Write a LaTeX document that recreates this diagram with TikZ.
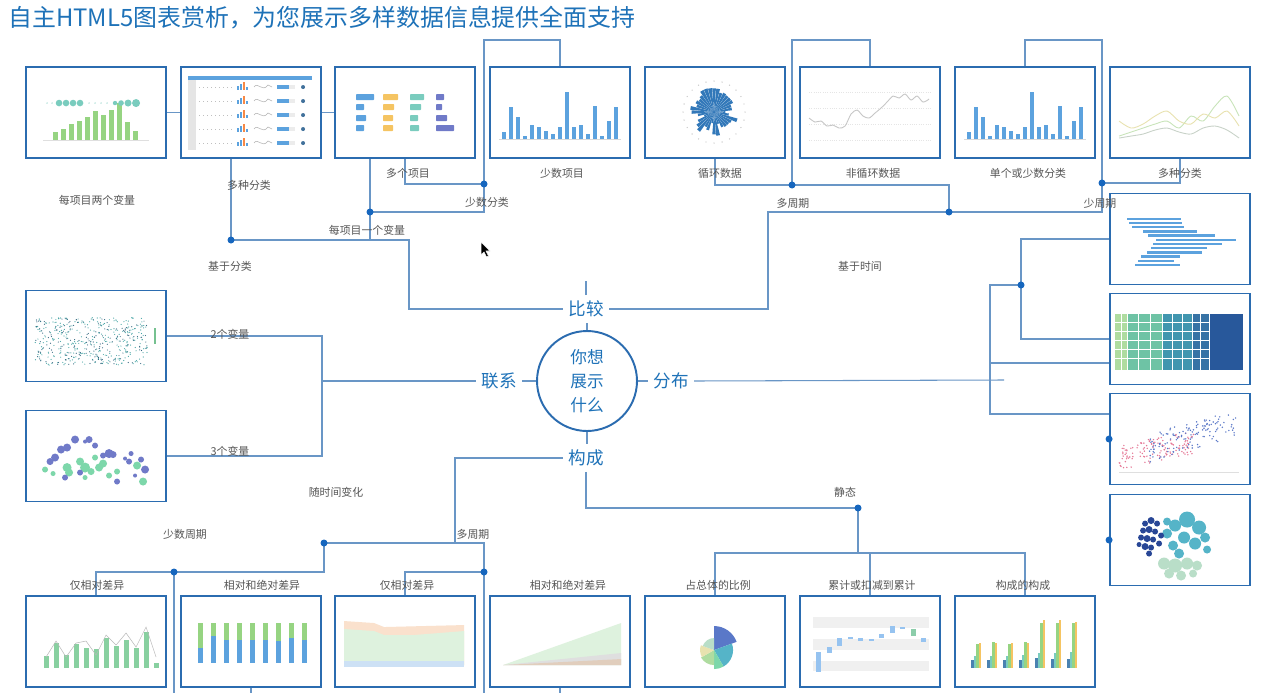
\documentclass[tikz,border=0pt]{standalone}
\usepackage{fontspec}
\setmainfont{Noto Sans CJK SC}
\usetikzlibrary{positioning}

\definecolor{frameblue}{RGB}{43,108,176}
\definecolor{linkblue}{RGB}{105,150,198}
\definecolor{dotblue}{RGB}{22,102,190}
\definecolor{headblue}{RGB}{30,114,184}
\definecolor{labelgray}{RGB}{85,85,85}
\definecolor{barblue}{RGB}{92,162,222}
\definecolor{bargreen}{RGB}{150,212,130}
\definecolor{barteal}{RGB}{122,204,190}
\definecolor{barorange}{RGB}{245,196,98}
\definecolor{barpurple}{RGB}{112,122,200}
\definecolor{roseblue}{RGB}{50,120,185}
\definecolor{tmA}{RGB}{175,220,160}
\definecolor{tmB}{RGB}{110,195,165}
\definecolor{tmC}{RGB}{65,150,175}
\definecolor{tmD}{RGB}{55,115,165}
\definecolor{tmE}{RGB}{40,88,155}
\definecolor{dotpink}{RGB}{230,120,150}
\definecolor{dotindigo}{RGB}{90,120,200}
\definecolor{scatTeal}{RGB}{70,165,165}
\definecolor{scatDark}{RGB}{55,105,130}
\definecolor{greenB}{RGB}{125,215,170}
\definecolor{darkB}{RGB}{40,70,150}
\definecolor{tealB}{RGB}{85,180,200}
\definecolor{paleB}{RGB}{185,222,200}
\definecolor{areaOrange}{RGB}{250,225,205}
\definecolor{areaGreen}{RGB}{222,242,222}
\definecolor{areaBlue}{RGB}{205,225,245}
\definecolor{waterBlue}{RGB}{150,195,240}
\definecolor{waterGreen}{RGB}{140,205,170}
\definecolor{lineGreen}{RGB}{200,228,185}
\definecolor{lineYellow}{RGB}{232,226,175}
\definecolor{lineGray}{RGB}{200,210,200}

\tikzset{
  thumb/.style={draw=frameblue, line width=1.1pt, fill=white, minimum width=2.8cm, minimum height=1.82cm, inner sep=0pt},
  link/.style={draw=linkblue, line width=0.6pt},
  joint/.style={circle, fill=dotblue, inner sep=0pt, minimum size=0.14cm},
  note/.style={text=labelgray, font=\fontsize{6.2}{7}\selectfont, inner sep=1pt},
  topic/.style={text=headblue, font=\fontsize{10}{12}\selectfont, inner sep=3pt},
  hub/.style={circle, draw=frameblue, line width=1.1pt, minimum size=2cm, align=center, text=headblue, font=\fontsize{9.5}{13.6}\selectfont}
}

\newcommand\fewbars{%
  \draw[gray!30, line width=0.3pt] (10,73) -- (132,73);
  \foreach \i/\h in {0/7,1/32,2/22,3/3,4/14,5/12,6/8,7/5,8/12,9/47,10/12,11/14,12/5,13/33,14/3,15/18,16/32}
    {\fill[barblue] (13+7*\i,73) rectangle ++(4,-\h);}%
}

\begin{document}
\begin{tikzpicture}[x=0.02cm, y=-0.02cm]% [ show background grid ]
\fill[white, use as bounding box] (0,0) rectangle (1280,693);
\pgfmathsetseed{3}

\node[anchor=west, text=headblue, font=\fontsize{13.6}{16}\selectfont, inner sep=0pt] (title) at (8,18) {自主HTML5图表赏析，为您展示多样数据信息提供全面支持};

% thumbnails
\node[thumb] (twoVar) at (96,112.5) {};
\node[thumb] (multiCat) at (251,112.5) {};
\node[thumb] (manyItems) at (405,112.5) {};
\node[thumb] (fewItems) at (560,112.5) {};
\node[thumb] (cyclic) at (715,112.5) {};
\node[thumb] (nonCyclic) at (870,112.5) {};
\node[thumb] (fewCat) at (1025,112.5) {};
\node[thumb] (manyCat) at (1180,112.5) {};

\node[thumb] (histo) at (1180,239) {};
\node[thumb] (treemap) at (1180,339) {};
\node[thumb] (scatter) at (1180,439) {};
\node[thumb] (bubbleDist) at (1180,540) {};

\node[thumb] (twoVarRel) at (96,336) {};
\node[thumb] (threeVarRel) at (96,456) {};

\node[thumb] (relFew) at (96,641.5) {};
\node[thumb] (absFew) at (251,641.5) {};
\node[thumb] (relMany) at (405,641.5) {};
\node[thumb] (absMany) at (560,641.5) {};
\node[thumb] (share) at (715,641.5) {};
\node[thumb] (waterfall) at (870,641.5) {};
\node[thumb] (compOfComp) at (1025,641.5) {};

% hub
\node[hub] (ask) at (587,381) {你想\\展示\\什么};
\node[topic] (cmp) at (586,309) {比较};
\node[topic] (rel) at (499,381) {联系};
\node[topic] (dist) at (671,381) {分布};
\node[topic] (comp) at (586,458) {构成};

% junctions and turns
\coordinate (dCat) at (231,240);
\coordinate (dOneVar) at (370,212);
\coordinate (dFewCat) at (484,184);
\coordinate (upFew) at (484,40);
\coordinate (cmpTurn) at (409,240);
\coordinate (timeTurn) at (768,309);
\coordinate (dTime) at (949,212);
\coordinate (dManyPer) at (792,185);
\coordinate (upMany) at (792,40);
\coordinate (dFewPer) at (1102,183);
\coordinate (upFewPer) at (1102,40);
\coordinate (distEnd) at (1004,380);
\coordinate (dDist) at (1021,285);
\coordinate (distTop) at (990,285);
\coordinate (distMid) at (990,363);
\coordinate (distBot) at (990,414);
\coordinate (relTurn) at (322,381);
\coordinate (chgTurn) at (455,543);
\coordinate (dFewCyc) at (324,543);
\coordinate (dRelFew) at (174,572);
\coordinate (fewDown) at (174,693);
\coordinate (dManyCyc) at (484,572);
\coordinate (manyDown) at (484,693);
\coordinate (dStatic) at (858,508);
\coordinate (staticBar) at (858,553);

% comparison
\draw[link] (twoVar.east) -- (multiCat.west);
\draw[link] (multiCat.east) -- (manyItems.west);
\draw[link] (multiCat.south -| dCat) -- (dCat) -- (cmpTurn) |- (cmp.west);
\draw[link] (manyItems.south -| dOneVar) -- (dOneVar |- dCat);
\draw[link] (dFewCat) -- (upFew) -| (fewItems.north);
\draw[link] (dFewCat) -| (manyItems.south);
\draw[link] (dFewCat) |- (dOneVar);
\draw[link] (cmp.east) -- (timeTurn) |- (dTime);
\draw[link] (dTime) |- (dManyPer);
\draw[link] (dTime) -| (dFewPer);
\draw[link] (dManyPer) -| (cyclic.south);
\draw[link] (dManyPer) -- (upMany) -| (nonCyclic.north);
\draw[link] (dFewPer) -- (upFewPer) -| (fewCat.north);
\draw[link] (dFewPer) -| (manyCat.south);

% distribution
\draw[link] (dist.east) -- (distEnd);
\draw[link] (dDist) -- (distTop) -- (distBot) -- (distBot -| scatter.west);
\draw[link] (dDist) |- (histo.west);
\draw[link] (dDist) |- (treemap.west);
\draw[link] (distMid) -- (distMid -| treemap.west);

% relationship
\draw[link] (rel.west) -- (relTurn);
\draw[link] (twoVarRel.east) -| (relTurn);
\draw[link] (threeVarRel.east) -| (relTurn);

% composition
\draw[link] (comp.west) -| (chgTurn) -- (dFewCyc);
\draw[link] (chgTurn) -| (dManyCyc);
\draw[link] (dFewCyc) |- (dRelFew);
\draw[link] (dRelFew) -| (relFew.north);
\draw[link] (dRelFew) -- (fewDown);
\draw[link] (absFew.south) -- (absFew.south |- fewDown);
\draw[link] (dManyCyc) -| (relMany.north);
\draw[link] (dManyCyc) -- (manyDown);
\draw[link] (absMany.south) -- (absMany.south |- manyDown);
\draw[link] (comp.south) -- (comp.south |- dStatic) -- (dStatic);
\draw[link] (dStatic) -- (staticBar);
\draw[link] (share.north) -- (share.north |- staticBar) -- (compOfComp.north |- staticBar) -- (compOfComp.north);
\draw[link] (waterfall.north) -- (waterfall.north |- staticBar);

% ticks round the hub
\draw[link] (cmp.north) -- ++(0,-14);
\draw[link] (ask.north) -- (ask.north |- cmp.south);
\draw[link] (ask.west) -- (rel.east);
\draw[link] (ask.east) -- (dist.west);
\draw[link] (ask.south) -- (ask.south |- comp.north);

\foreach \d in {dCat,dOneVar,dFewCat,dTime,dManyPer,dFewPer,dDist,dFewCyc,dRelFew,dManyCyc,dStatic}
  \node[joint] (\d-mark) at (\d) {};
\node[joint] (scatterMark) at (scatter.west) {};
\node[joint] (bubbleMark) at (bubbleDist.west) {};

% labels
\node[note] (nTwoVar) at (97,200) {每项目两个变量};
\node[note] (nMultiCat) at (249,185) {多种分类};
\node[note] (nManyItems) at (408,173) {多个项目};
\node[note] (nFewItems) at (562,173) {少数项目};
\node[note] (nFewCat) at (487,202) {少数分类};
\node[note] (nOneVar) at (367,230) {每项目一个变量};
\node[note] (nByCat) at (230,266) {基于分类};
\node[note] (nCyclic) at (720,173) {循环数据};
\node[note] (nNonCyclic) at (873,173) {非循环数据};
\node[note] (nFewCatT) at (1028,173) {单个或少数分类};
\node[note] (nManyCatT) at (1180,173) {多种分类};
\node[note] (nManyPer) at (793,203) {多周期};
\node[note] (nFewPer) at (1100,203) {少周期};
\node[note] (nByTime) at (860,266) {基于时间};
\node[note] (nTwoRel) at (230,334) {2个变量};
\node[note] (nThreeRel) at (230,451) {3个变量};
\node[note] (nOverTime) at (336,492) {随时间变化};
\node[note] (nFewCyc) at (185,534) {少数周期};
\node[note] (nManyCyc) at (473,534) {多周期};
\node[note] (nStatic) at (845,492) {静态};
\node[note] (nRelFew) at (97,585) {仅相对差异};
\node[note] (nAbsFew) at (262,585) {相对和绝对差异};
\node[note] (nRelMany) at (407,585) {仅相对差异};
\node[note] (nAbsMany) at (568,585) {相对和绝对差异};
\node[note] (nShare) at (718,585) {占总体的比例};
\node[note] (nWaterfall) at (872,585) {累计或扣减到累计};
\node[note] (nCompOfComp) at (1023,585) {构成的构成};

% mouse pointer
\filldraw[fill=black, draw=white, line width=0.3pt] (481,242) -- (481,255) -- (484,252) -- (486.5,257) -- (488.5,256) -- (486,251) -- (490,251) -- cycle;

% chart pictures
\begin{scope}[shift={(twoVar.north west)}]
\draw[gray!25, line width=0.3pt] (18,74) -- (124,74);
\foreach \i/\h in {0/8,1/11,2/16,3/19,4/23,5/29,6/25,7/30,8/37,9/18,10/9}
  \fill[bargreen] (28+8*\i,74) rectangle ++(5,-\h);
\foreach \x/\r in {34/3.3,41/3.3,48/3.3,55/3.3,90/2.2,96/2.8,103/3.5,111/4}
  \fill[barteal] (\x,37) circle (\r);
\foreach \x in {22,27,64,70,76,82}
  \fill[barteal!60] (\x,37) circle (0.8);
\end{scope}

\begin{scope}[shift={(multiCat.north west)}]
\fill[barblue] (8,10) rectangle (132,14);
\fill[gray!20] (8,14) rectangle (16,84);
\foreach \y in {24,38,52,66,80}{
  \draw[gray!50, dotted, line width=0.3pt] (19,\y-3) -- (54,\y-3);
  \fill[barblue] (57,\y) rectangle ++(2,-4);
  \fill[barblue] (60,\y) rectangle ++(2,-6);
  \fill[barorange!70!red] (63,\y) rectangle ++(2,-8);
  \fill[barblue] (66,\y) rectangle ++(2,-3);
  \draw[gray!60, line width=0.3pt] (74,\y-3) .. controls (78,\y-9) and (82,\y+3) .. (88,\y-5) -- (92,\y-3);
  \fill[barblue] (97,\y-1) rectangle ++(12,-4);
  \fill[gray!15] (109,\y-1) rectangle ++(6,-4);
  \fill[barblue!70!black] (123,\y-3) circle (2);
}
\end{scope}

\begin{scope}[shift={(manyItems.north west)}]
\foreach \y/\a/\b/\c/\d in {31/18/15/14/8,41/8/11/11/6,52/10/10/8/11,62/8/10/9/18}{
  \fill[barblue, rounded corners=0.4pt] (22,\y-3) rectangle ++(\a,6);
  \fill[barorange, rounded corners=0.4pt] (49,\y-3) rectangle ++(\b,6);
  \fill[barteal, rounded corners=0.4pt] (76,\y-3) rectangle ++(\c,6);
  \fill[barpurple, rounded corners=0.4pt] (102,\y-3) rectangle ++(\d,6);
}
\end{scope}

\begin{scope}[shift={(fewItems.north west)}]
\fewbars
\end{scope}

\begin{scope}[shift={(cyclic.north west)}]
\foreach \a in {0,10,...,350}{
  \pgfmathsetmacro\len{10+rnd*15}
  \fill[roseblue] (70,46) -- +(\a-4.5:\len) -- +(\a+4.5:\len) -- cycle;
}
\foreach \a in {0,15,...,345}
  \fill[gray!45] (70,46) ++(\a:31) circle (0.7);
\end{scope}

\begin{scope}[shift={(nonCyclic.north west)}]
\foreach \y in {26,42,58,74}
  \draw[gray!20, densely dotted, line width=0.3pt] (10,\y) -- (132,\y);
\draw[gray!45, line width=0.5pt] plot[smooth] coordinates {(10,52) (16,56) (22,55) (28,60) (34,59) (40,62) (46,60) (52,48) (58,44) (64,50) (70,52) (76,47) (82,42) (88,36) (94,30) (100,32) (106,28) (112,34) (118,30) (124,36) (130,33)};
\end{scope}

\begin{scope}[shift={(fewCat.north west)}]
\fewbars
\end{scope}

\begin{scope}[shift={(manyCat.north west)}]
\draw[lineGreen, line width=0.5pt] plot[smooth] coordinates {(10,70) (22,66) (34,62) (46,58) (58,55) (70,62) (82,50) (94,55) (106,40) (118,30) (130,50)};
\draw[lineYellow, line width=0.5pt] plot[smooth] coordinates {(10,55) (22,62) (34,58) (46,50) (58,45) (70,55) (82,58) (94,48) (106,52) (118,45) (130,60)};
\draw[lineGray, line width=0.5pt] plot[smooth] coordinates {(10,72) (22,70) (34,68) (46,64) (58,62) (70,66) (82,68) (94,62) (106,60) (118,64) (130,72)};
\end{scope}

\begin{scope}[shift={(histo.north west)}]
\foreach \k/\s/\e in {0/18/72,1/20/73,2/23/75,3/34/88,4/39/106,5/47/127,6/44/113,7/42/98,8/38/93,9/32/71,10/29/65,11/26/71}
  \fill[barblue] (\s,25+4.2*\k) rectangle (\e,27.5+4.2*\k);
\end{scope}

\begin{scope}[shift={(treemap.north west)}]
\fill[tmA] (6,21) rectangle (18,77);
\fill[tmB] (18,21) rectangle (53,77);
\fill[tmC] (53,21) rectangle (83,77);
\fill[tmD] (83,21) rectangle (100,77);
\fill[tmE] (100,21) rectangle (134,77);
\foreach \y in {30,39,...,70}
  \draw[white, line width=0.15pt] (6,\y) -- (100,\y);
\foreach \x in {12,18,29,41,53,63,73,83,91,100}
  \draw[white, line width=0.15pt] (\x,21) -- (\x,77);
\end{scope}

\begin{scope}[shift={(scatter.north west)}]
\draw[gray!25, line width=0.3pt] (10,80) -- (130,80);
\foreach \k in {1,...,130}{
  \pgfmathsetmacro\px{10+rnd*75}
  \pgfmathsetmacro\py{77-0.2*(\px-10)-rnd*24}
  \fill[dotpink] (\px,\py) circle (0.8);
}
\foreach \k in {1,...,130}{
  \pgfmathsetmacro\px{40+rnd*88}
  \pgfmathsetmacro\py{70-0.3*(\px-40)-rnd*28}
  \fill[dotindigo] (\px,\py) circle (0.8);
}
\end{scope}

\begin{scope}[shift={(bubbleDist.north west)}]
\foreach \x/\y/\r in {55/70/6,66/72/7,78/70/6,88/72/5,60/80/5,72/82/5,84/80/4}
  \fill[paleB] (\x,\y) circle (\r);
\foreach \x/\y/\r in {58/40/5,66/32/6,78/26/8,90/34/7,75/44/6,86/50/6,64/52/5,96/44/5,70/60/5,58/28/4,98/56/4}
  \fill[tealB] (\x,\y) circle (\r);
\foreach \x/\y/\r in {36/30/3,42/27/3.5,48/30/3,34/37/3,40/36/3.5,46/38/3,32/44/3,38/45/3.5,44/46/3,36/53/3.5,42/54/3,50/50/3,40/60/3,52/42/3,30/51/2.5}
  \fill[darkB] (\x,\y) circle (\r);
\end{scope}

\begin{scope}[shift={(twoVarRel.north west)}]
\foreach \k in {1,...,320}{
  \pgfmathsetmacro\px{10+rnd*112}
  \pgfmathsetmacro\py{28+rnd*48}
  \fill[scatTeal] (\px,\py) circle (0.6);
}
\foreach \k in {1,...,180}{
  \pgfmathsetmacro\px{10+rnd*112}
  \pgfmathsetmacro\py{28+rnd*48}
  \fill[scatDark] (\px,\py) circle (0.6);
}
\fill[bargreen!60!scatTeal] (129,38) rectangle (131,54);
\end{scope}

\begin{scope}[shift={(threeVarRel.north west)}]
\foreach \x/\y/\r in {20/60/3,42/58/4.5,44/63/4,55/52/4,60/58/5,66/62/3.5,74/58/4,78/54/4,70/48/3,84/66/3,92/62/3,112/56/4,118/72/4,28/64/2.5,60/68/2.5}
  \fill[greenB] (\x,\y) circle (\r);
\foreach \x/\y/\r in {25/52/3.5,30/48/4,36/40/4,42/38/4,50/30/4,60/32/2,64/30/3.5,70/36/3,78/46/3,84/44/4.5,88/45/3.5,100/49/2,104/52/3,106/44/2.5,116/50/3,120/60/4,40/68/3,55/63/3,92/72/3,110/66/2}
  \fill[barpurple] (\x,\y) circle (\r);
\end{scope}

\begin{scope}[shift={(relFew.north west)}]
\foreach \i/\h in {0/12,1/25,2/13,3/24,4/20,5/19,6/30,7/22,8/28,9/20,10/36,11/5}
  \fill[barteal!50!bargreen] (19+10*\i,73) rectangle ++(5,-\h);
\draw[gray!55, line width=0.3pt] plot coordinates {(21,62) (31,46) (41,62) (51,48) (61,46) (71,60) (81,40) (91,50) (101,38) (111,52) (121,32) (131,62)};
\end{scope}

\begin{scope}[shift={(absFew.north west)}]
\foreach \i/\b in {0/15,1/27,2/23,3/23,4/23,5/23,6/22,7/25,8/23}{
  \fill[bargreen] (18+13*\i,68) rectangle ++(5,-40);
  \fill[barblue] (18+13*\i,68) rectangle ++(5,-\b);
}
\end{scope}

\begin{scope}[shift={(relMany.north west)}]
\fill[areaOrange] (10,26) -- (40,28) -- (50,32) -- (130,30) -- (130,70) -- (10,70) -- cycle;
\fill[areaGreen] (10,34) -- (40,36) -- (50,40) -- (80,40) -- (130,36) -- (130,70) -- (10,70) -- cycle;
\fill[areaBlue] (10,66) rectangle (130,72);
\end{scope}

\begin{scope}[shift={(absMany.north west)}]
\fill[areaGreen] (14,70) -- (132,28) -- (132,70) -- cycle;
\fill[gray!25] (14,70) -- (132,58) -- (132,70) -- cycle;
\fill[areaOrange!80!gray] (14,70) -- (132,64) -- (132,70) -- cycle;
\end{scope}

\begin{scope}[shift={(share.north west)}]
\foreach \a/\b/\r/\c in {-90/-20/24/dotindigo,-20/60/19/tealB,60/90/19/greenB,90/150/15/tmA,150/200/14/lineYellow,200/270/12/paleB}
  \fill[\c] (70,55) -- +(\a:\r) arc[start angle=\a, end angle=\b, radius=\r] -- cycle;
\end{scope}

\begin{scope}[shift={(waterfall.north west)}]
\fill[gray!12] (14,22) rectangle (130,33);
\fill[gray!12] (14,44) rectangle (130,55);
\fill[gray!12] (14,66) rectangle (130,76);
\foreach \i/\t/\b in {0/57/77,1/52/58,2/43/51,3/42/44,4/43/46,5/44/46,6/39/43,7/31/38,8/32/34,10/43/47}
  \fill[waterBlue] (17+10.5*\i,\t) rectangle (22+10.5*\i,\b);
\fill[waterGreen] (17+10.5*9,34) rectangle (22+10.5*9,41);
\end{scope}

\begin{scope}[shift={(compOfComp.north west)}]
\foreach \i/\a/\b/\c/\d in {0/8/12/24/25,1/8/12/26/25,2/8/12/24/25,3/8/13/26/25,4/10/15/45/48,5/9/15/45/48,6/9/16/45/46}{
  \fill[barblue!80!black] (17+16*\i,73) rectangle ++(2.5,-\a);
  \fill[barteal] (19.5+16*\i,73) rectangle ++(2.5,-\b);
  \fill[bargreen] (22+16*\i,73) rectangle ++(2.5,-\c);
  \fill[barorange] (24.5+16*\i,73) rectangle ++(2.5,-\d);
}
\end{scope}

\end{tikzpicture}
\end{document}
